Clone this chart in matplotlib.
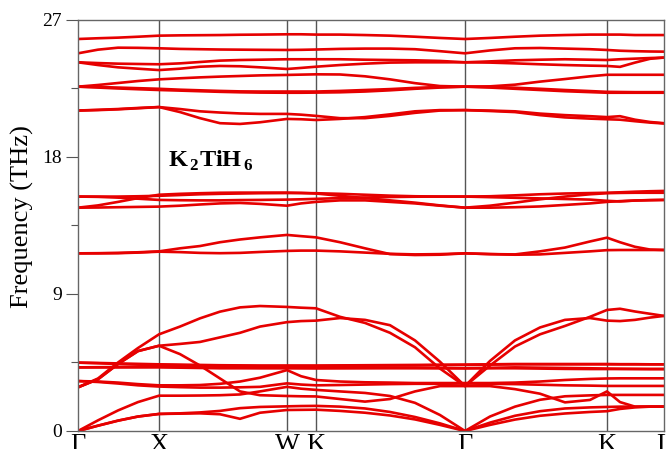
import matplotlib
matplotlib.use('Agg')
import matplotlib.pyplot as plt
from matplotlib.ticker import MultipleLocator

plt.rcParams['font.family'] = 'Liberation Serif'
plt.rcParams['mathtext.fontset'] = 'custom'
plt.rcParams['mathtext.rm'] = 'Liberation Serif'
plt.rcParams['mathtext.bf'] = 'Liberation Serif:bold'

# path coordinate of every sampled q-point (G-X-W-K-G-K-L)
kpath = [0, 20, 40, 60, 81, 102, 122, 142, 162, 182, 209, 223, 238,
         262, 287, 312, 337, 362, 387, 412, 437, 462, 487, 512, 529,
         542, 557, 572, 586]
ktick_pos = [0, 81, 209, 238, 387, 529, 586]
ktick_labels = ['Γ', 'X', 'W', 'K', 'Γ', 'K', 'L']

# low (acoustic + lattice) branches, THz
low_bands = [
    [0, 0.35, 0.68, 0.95, 1.12, 1.14, 1.16, 1.10, 0.80, 1.20, 1.38, 1.39, 1.40,
     1.32, 1.20, 1.02, 0.76, 0.40, 0, 0.40, 0.75, 1.00, 1.15, 1.25, 1.30,
     1.45, 1.55, 1.60, 1.60],
    [0, 0.35, 0.68, 0.95, 1.12, 1.16, 1.22, 1.32, 1.50, 1.58, 1.62, 1.64, 1.65,
     1.60, 1.48, 1.25, 0.92, 0.50, 0, 0.55, 1.00, 1.30, 1.48, 1.55, 1.58,
     1.60, 1.60, 1.60, 1.60],
    [0, 0.70, 1.35, 1.90, 2.32, 2.32, 2.33, 2.35, 2.40, 2.60, 2.90, 2.78, 2.70,
     2.60, 2.50, 2.30, 1.85, 1.05, 0, 0.95, 1.60, 2.05, 2.28, 2.34, 2.37,
     2.37, 2.37, 2.37, 2.37],
    [2.87, 3.40, 4.40, 5.25, 5.60, 5.72, 5.85, 6.15, 6.45, 6.86, 7.15, 7.22, 7.25,
     7.42, 7.30, 6.95, 5.95, 4.55, 2.95, 4.30, 5.55, 6.35, 6.90, 7.50, 7.95,
     8.03, 7.85, 7.70, 7.56],
    [2.87, 3.45, 4.50, 5.45, 6.35, 6.86, 7.40, 7.84, 8.12, 8.21, 8.15, 8.10, 8.06,
     7.50, 7.10, 6.45, 5.50, 4.10, 2.95, 4.60, 5.95, 6.80, 7.30, 7.42, 7.25,
     7.22, 7.30, 7.45, 7.56],
    [2.87, 3.40, 4.40, 5.25, 5.60, 5.05, 4.30, 3.45, 2.60, 2.35, 2.30, 2.28, 2.27,
     2.10, 1.93, 2.10, 2.60, 2.95, 2.95, 2.95, 2.75, 2.45, 1.88, 2.04, 2.60,
     1.90, 1.60, 1.60, 1.60],
    [3.28, 3.25, 3.18, 3.08, 3.00, 3.00, 3.02, 3.10, 3.25, 3.50, 4.00, 3.60, 3.35,
     3.25, 3.20, 3.18, 3.15, 3.15, 3.15, 3.15, 3.18, 3.25, 3.35, 3.42, 3.45,
     3.46, 3.46, 3.46, 3.46],
    [3.28, 3.22, 3.12, 3.00, 2.92, 2.88, 2.85, 2.85, 2.87, 2.90, 3.13, 3.05, 3.00,
     3.02, 3.05, 3.08, 3.10, 3.10, 3.12, 3.10, 3.08, 3.04, 3.00, 2.98, 2.96,
     2.96, 2.96, 2.96, 2.96],
    [4.18, 4.18, 4.18, 4.18, 4.18, 4.16, 4.14, 4.12, 4.12, 4.12, 4.12, 4.12, 4.12,
     4.12, 4.12, 4.12, 4.12, 4.12, 4.12, 4.12, 4.12, 4.10, 4.08, 4.07, 4.07,
     4.07, 4.07, 4.07, 4.07],
    [4.18, 4.19, 4.20, 4.21, 4.22, 4.20, 4.18, 4.17, 4.16, 4.15, 4.15, 4.14, 4.13,
     4.14, 4.15, 4.16, 4.16, 4.14, 4.12, 4.15, 4.18, 4.16, 4.14, 4.12, 4.10,
     4.09, 4.08, 4.07, 4.07],
    [4.49, 4.45, 4.40, 4.36, 4.34, 4.32, 4.30, 4.29, 4.28, 4.27, 4.27, 4.27, 4.27,
     4.28, 4.29, 4.30, 4.31, 4.33, 4.34, 4.36, 4.38, 4.38, 4.38, 4.38, 4.38,
     4.38, 4.38, 4.38, 4.38],
    [4.49, 4.47, 4.44, 4.41, 4.38, 4.36, 4.34, 4.32, 4.31, 4.30, 4.30, 4.30, 4.30,
     4.31, 4.32, 4.33, 4.34, 4.35, 4.36, 4.38, 4.40, 4.40, 4.40, 4.40, 4.40,
     4.39, 4.39, 4.38, 4.38],
]

# middle (H bending) branches
mid_bands = [
    [11.67, 11.67, 11.68, 11.72, 11.78, 11.75, 11.70, 11.68, 11.70, 11.76, 11.83, 11.85, 11.85,
     11.80, 11.72, 11.64, 11.60, 11.62, 11.67, 11.62, 11.58, 11.60, 11.70, 11.80, 11.88,
     11.89, 11.89, 11.89, 11.89],
    [11.67, 11.68, 11.70, 11.74, 11.80, 12.00, 12.15, 12.40, 12.58, 12.72, 12.88, 12.80, 12.72,
     12.40, 12.00, 11.62, 11.56, 11.58, 11.67, 11.62, 11.60, 11.80, 12.05, 12.45, 12.70,
     12.40, 12.10, 11.92, 11.89],
    [15.40, 15.40, 15.40, 15.42, 15.45, 15.50, 15.55, 15.58, 15.60, 15.62, 15.63, 15.63, 15.62,
     15.58, 15.52, 15.46, 15.42, 15.40, 15.40, 15.42, 15.48, 15.55, 15.60, 15.63, 15.65,
     15.68, 15.72, 15.75, 15.77],
    [14.67, 14.82, 15.05, 15.30, 15.52, 15.58, 15.62, 15.65, 15.66, 15.66, 15.66, 15.64, 15.60,
     15.45, 15.30, 15.15, 15.00, 14.82, 14.67, 14.80, 15.00, 15.22, 15.40, 15.55, 15.62,
     15.64, 15.65, 15.65, 15.65],
    [15.40, 15.38, 15.33, 15.26, 15.18, 15.16, 15.15, 15.15, 15.17, 15.18, 15.20, 15.22, 15.25,
     15.30, 15.34, 15.37, 15.39, 15.40, 15.40, 15.36, 15.32, 15.28, 15.24, 15.20, 15.12,
     15.08, 15.14, 15.17, 15.18],
    [14.67, 14.68, 14.70, 14.72, 14.74, 14.80, 14.88, 14.95, 14.98, 14.92, 14.80, 14.95, 15.05,
     15.15, 15.15, 15.05, 14.95, 14.80, 14.67, 14.67, 14.70, 14.75, 14.85, 14.95, 15.05,
     15.10, 15.14, 15.16, 15.18],
]

# high (H stretching) branches
high_bands = [
    [25.75, 25.80, 25.84, 25.90, 25.97, 25.99, 26.00, 26.01, 26.03, 26.04, 26.06, 26.06, 26.04,
     26.04, 26.01, 25.97, 25.90, 25.82, 25.75, 25.82, 25.90, 25.97, 26.01, 26.04, 26.04,
     26.04, 26.01, 26.01, 26.01],
    [24.81, 25.05, 25.18, 25.17, 25.14, 25.10, 25.08, 25.06, 25.05, 25.04, 25.03, 25.04, 25.06,
     25.10, 25.12, 25.12, 25.08, 24.95, 24.81, 25.00, 25.14, 25.16, 25.12, 25.08, 25.03,
     24.98, 24.95, 24.93, 24.92],
    [24.22, 24.17, 24.13, 24.11, 24.09, 24.15, 24.24, 24.33, 24.37, 24.39, 24.42, 24.42, 24.42,
     24.42, 24.39, 24.37, 24.35, 24.31, 24.22, 24.28, 24.35, 24.39, 24.42, 24.39, 24.37,
     24.42, 24.46, 24.50, 24.53],
    [24.22, 24.04, 23.89, 23.80, 23.71, 23.80, 23.93, 23.98, 23.96, 23.89, 23.78, 23.85, 23.93,
     24.04, 24.13, 24.20, 24.22, 24.22, 24.22, 24.20, 24.15, 24.09, 24.04, 24.00, 23.98,
     23.92, 24.20, 24.45, 24.53],
    [22.62, 22.73, 22.86, 22.99, 23.10, 23.17, 23.23, 23.28, 23.32, 23.36, 23.39, 23.41, 23.43,
     23.42, 23.30, 23.10, 22.85, 22.66, 22.62, 22.64, 22.75, 22.95, 23.12, 23.30, 23.40,
     23.40, 23.40, 23.40, 23.40],
    [22.62, 22.56, 22.50, 22.45, 22.40, 22.36, 22.32, 22.28, 22.25, 22.23, 22.22, 22.22, 22.23,
     22.25, 22.30, 22.38, 22.48, 22.56, 22.62, 22.56, 22.48, 22.40, 22.32, 22.26, 22.22,
     22.22, 22.22, 22.22, 22.22],
    [22.62, 22.60, 22.56, 22.52, 22.48, 22.42, 22.38, 22.34, 22.31, 22.30, 22.30, 22.30, 22.30,
     22.34, 22.40, 22.46, 22.54, 22.60, 22.62, 22.60, 22.55, 22.48, 22.40, 22.33, 22.28,
     22.27, 22.26, 22.26, 22.26],
    [21.05, 21.10, 21.15, 21.22, 21.28, 21.15, 21.00, 20.92, 20.86, 20.83, 20.83, 20.78, 20.70,
     20.55, 20.55, 20.70, 20.90, 21.05, 21.08, 21.05, 21.00, 20.85, 20.75, 20.68, 20.62,
     20.68, 20.45, 20.30, 20.22],
    [21.05, 21.08, 21.13, 21.20, 21.28, 20.95, 20.55, 20.22, 20.17, 20.28, 20.50, 20.48, 20.43,
     20.50, 20.62, 20.80, 21.00, 21.08, 21.08, 21.02, 20.95, 20.75, 20.60, 20.52, 20.48,
     20.45, 20.35, 20.26, 20.20],
]

fig = plt.figure(figsize=(6.69, 4.49), dpi=100)
ax = fig.add_axes([0.1166, 0.0401, 0.8759, 0.9154])

for x in ktick_pos[1:-1]:
    ax.axvline(x, color='#555555', lw=1.0, zorder=1)

for band in low_bands + mid_bands + high_bands:
    ax.plot(kpath, band, color='#e60000', lw=1.9, zorder=2)

ax.set_xlim(0, 586)
ax.set_ylim(0, 27)
ax.set_xticks(ktick_pos)
ax.set_xticklabels(ktick_labels, fontsize=19)
ax.tick_params(axis='x', length=0, pad=2)
ax.set_yticks([0, 9, 18, 27])
ax.yaxis.set_minor_locator(MultipleLocator(4.5))
ax.tick_params(axis='y', which='major', direction='out', length=8.5, width=0.8,
               color='#555555', labelsize=14, pad=3)
ax.tick_params(axis='y', which='minor', direction='out', length=5, width=0.8,
               color='#555555')
for s in ax.spines.values():
    s.set_color('#666666')
    s.set_linewidth(1.0)

fig.text(0.033, 0.517, 'Frequency (THz)', rotation=90, fontsize=19,
         ha='center', va='center')
ax.text(90, 17.35, r'$\mathbf{K}_{\,\mathbf{2}}\mathbf{TiH}_{\,\mathbf{6}}$',
        fontsize=17.5, va='baseline')

fig.savefig('out.png', dpi=100)
